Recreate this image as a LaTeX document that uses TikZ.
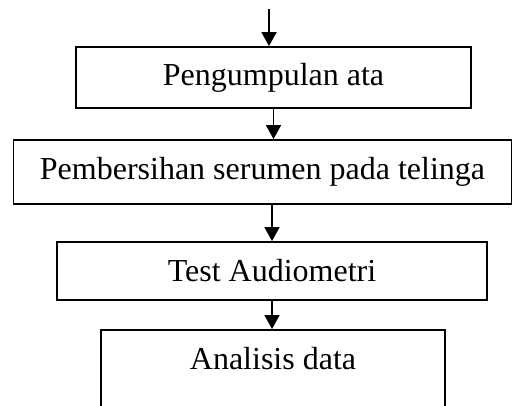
\documentclass[tikz,border=0pt]{standalone}
\usepackage{fontspec}
\setmainfont{Liberation Serif}
\usetikzlibrary{arrows.meta}

\tikzset{
	prosesbox/.style={draw, line width=1.8pt, inner sep=0pt, font=\fontsize{32}{36}\selectfont},
	alur/.style={line width=1.8pt, -{Triangle[length=14pt,width=15pt]}}
}

\begin{document}
\begin{tikzpicture}[x=1pt, y=-1pt]
		\useasboundingbox[clip] (0,0) rectangle (512,405);
		\coordinate (mulai) at (269,9);
		\node[prosesbox, minimum width=395pt, minimum height=61pt] (pengumpulan) at (273.5,77.5) {Pengumpulan ata};
		\node[prosesbox, minimum width=498pt, minimum height=64pt] (pembersihan) at (262.5,172) {Pembersihan serumen pada telinga};
		\node[prosesbox, minimum width=430pt, minimum height=58pt] (audiometri) at (272,271) {Test Audiometri};
		\node[prosesbox, minimum width=344pt, text height=40pt, text depth=60pt, anchor=north] (analisis) at (273,329) {Analisis data};
		\draw[alur] (mulai) -- (mulai |- pengumpulan.north);
		\draw[alur] (pengumpulan.south) -- (pengumpulan.south |- pembersihan.north);
		\draw[alur] (audiometri.north |- pembersihan.south) -- (audiometri.north);
		\draw[alur] (audiometri.south) -- (audiometri.south |- analisis.north);
	\end{tikzpicture}
\end{document}
